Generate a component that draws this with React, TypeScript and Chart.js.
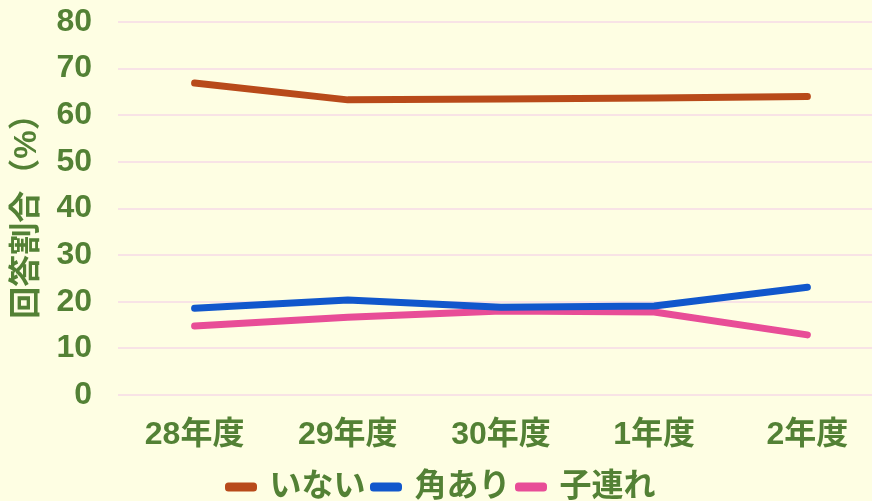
import React, { useEffect, useRef } from "react";
import { Chart, registerables } from "chart.js";

Chart.register(...registerables);

const categories = ["28年度", "29年度", "30年度", "1年度", "2年度"];
const seriesNames = ["いない", "角あり", "子連れ"];
const inaiValues = [66.9, 63.3, 63.5, 63.7, 64.0];
const tsunoariValues = [18.6, 20.4, 18.8, 19.1, 23.1];
const kozureValues = [14.8, 16.7, 18.0, 17.8, 12.9];
const yMin = 0;
const yMax = 80;
const yStep = 10;
const yTitle = "回答割合（%）";

const seriesColors = ["#B84A1A", "#1157CC", "#E84D97"];
const textColor = "#538135";
const gridColor = "#F8E3E6";
const bgColor = "#FEFEE3";
const fontFamily = "'Liberation Sans', 'Noto Sans CJK JP', sans-serif";

export default function App() {
  const canvasRef = useRef<HTMLCanvasElement | null>(null);

  useEffect(() => {
    const canvas = canvasRef.current;
    if (!canvas) return;
    const seriesValues = [inaiValues, tsunoariValues, kozureValues];
    const chart = new Chart(canvas, {
      type: "line",
      data: {
        labels: categories,
        datasets: seriesNames.map((name, i) => ({
          label: name,
          data: seriesValues[i],
          borderColor: seriesColors[i],
          backgroundColor: seriesColors[i],
          borderWidth: 7,
          borderCapStyle: "round",
          borderJoinStyle: "round",
          pointRadius: 0,
          pointHoverRadius: 0,
          tension: 0,
          fill: false,
        })),
      },
      options: {
        responsive: false,
        animation: false,
        devicePixelRatio: 1,
        layout: { padding: { top: 22, left: 0, right: 0, bottom: 0 } },
        plugins: {
          tooltip: { enabled: false },
          legend: {
            position: "bottom",
            labels: {
              color: textColor,
              font: { family: fontFamily, size: 32, weight: "bold" },
              boxWidth: 25,
              boxHeight: 2,
              padding: 8,
            },
          },
        },
        scales: {
          x: {
            offset: true,
            grid: { display: false, drawTicks: false, offset: true },
            border: { display: false },
            ticks: {
              color: textColor,
              font: { family: fontFamily, size: 32, weight: "bold" },
              padding: 21,
              maxRotation: 0,
              autoSkip: false,
            },
            afterFit: (scale: any) => {
              scale.height = 68;
              scale.paddingLeft = 0;
              scale.paddingRight = 0;
            },
          },
          y: {
            min: yMin,
            max: yMax,
            grid: { color: gridColor, lineWidth: 2, drawTicks: false },
            border: { display: false },
            ticks: {
              stepSize: yStep,
              color: textColor,
              font: { family: fontFamily, size: 32, weight: "bold" },
              padding: 26,
            },
            title: {
              display: true,
              text: yTitle,
              color: textColor,
              font: { family: fontFamily, size: 32, weight: "bold" },
              padding: { top: 8, bottom: 0 },
            },
            afterFit: (scale: any) => {
              scale.width = 118;
              scale.paddingTop = 0;
              scale.paddingBottom = 0;
            },
          },
        },
      },
    });
    return () => chart.destroy();
  }, []);

  return (
    <div
      style={{
        position: "fixed",
        left: 0,
        top: 0,
        width: 872,
        height: 501,
        overflow: "hidden",
        background: bgColor,
      }}
    >
      <canvas ref={canvasRef} width={884} height={513} style={{ display: "block" }} />
    </div>
  );
}
